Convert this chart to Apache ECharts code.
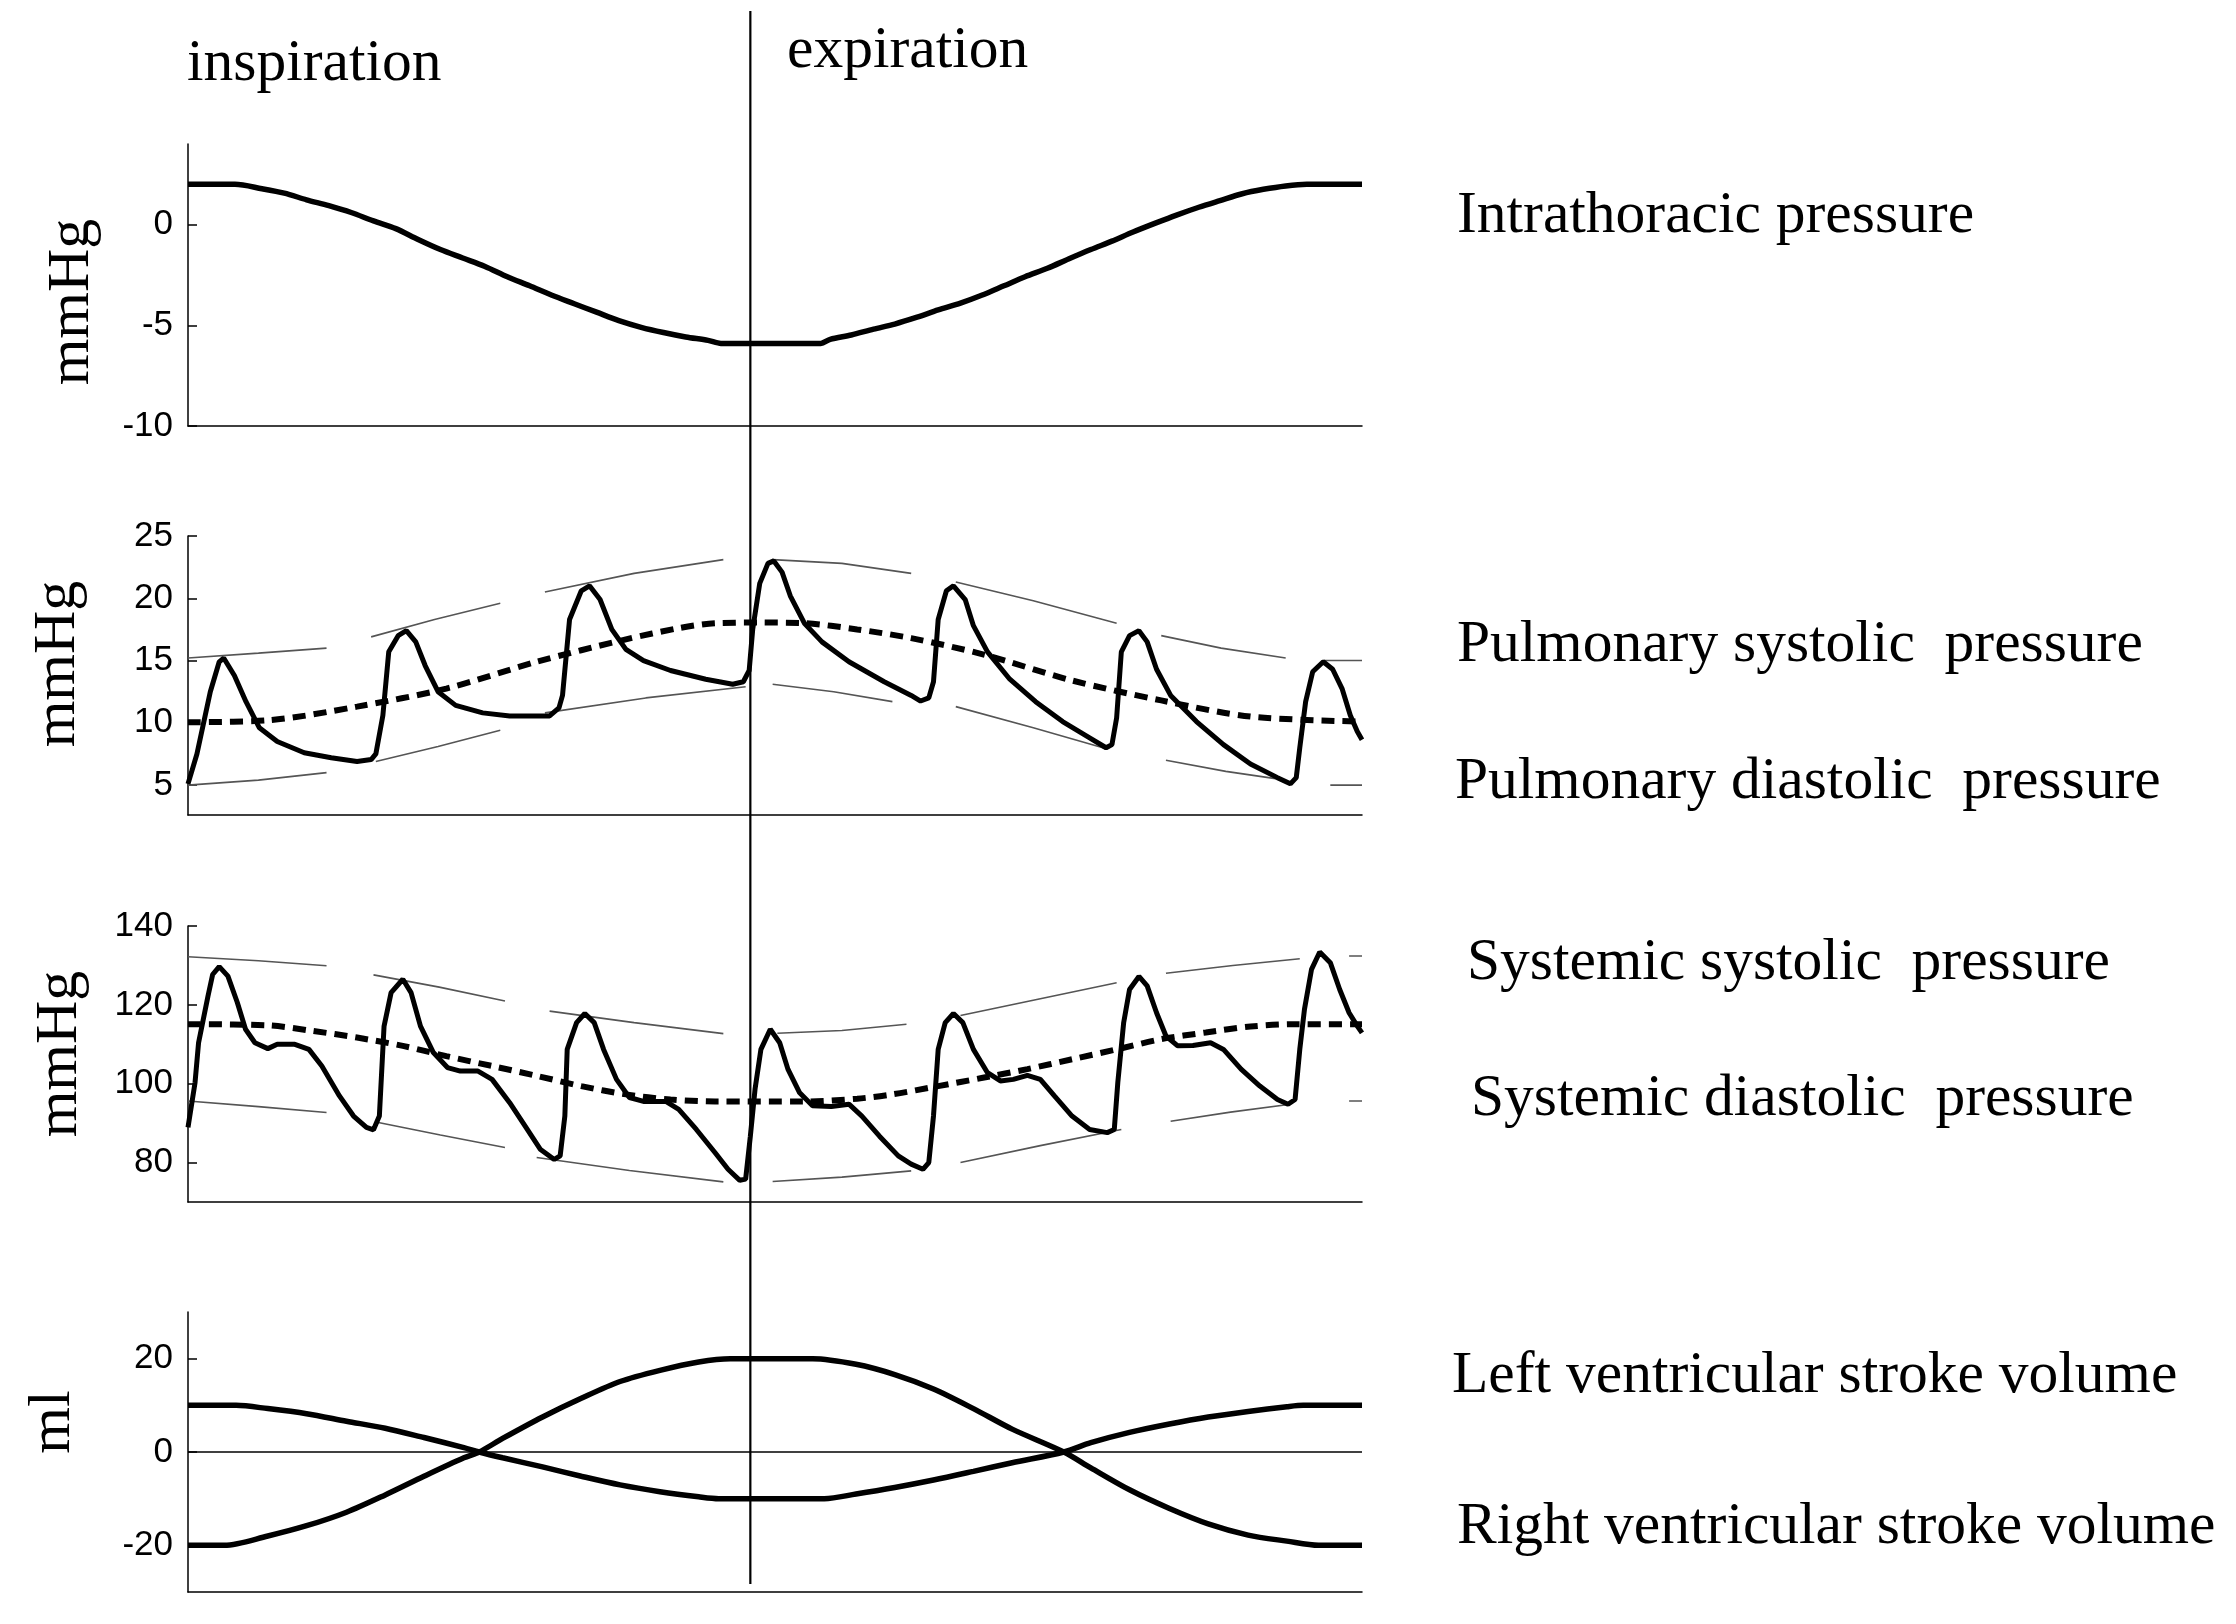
<!DOCTYPE html>
<html>
<head>
<meta charset="utf-8">
<script src="https://cdn.jsdelivr.net/npm/echarts@6/dist/echarts.min.js"></script>
<style>
html,body{margin:0;padding:0;background:#fff;}
#c{width:2236px;height:1624px;}
</style>
</head>
<body>
<div id="c"></div>
<script>
// ---------------- data (time axis 0..100 across one respiratory cycle) ----------------
const phaseBoundary = 47.9; // end of inspiration / start of expiration
const phaseLabels = ['inspiration', 'expiration'];
const seriesLabels = [
  'Intrathoracic pressure',
  'Pulmonary systolic  pressure',
  'Pulmonary diastolic  pressure',
  'Systemic systolic  pressure',
  'Systemic diastolic  pressure',
  'Left ventricular stroke volume',
  'Right ventricular stroke volume'
];
const axisUnits = ['mmHg', 'mmHg', 'mmHg', 'ml'];
const yTicks1 = [-10, -5, 0];
const yTicks2 = [5, 10, 15, 20, 25];
const yTicks3 = [80, 100, 120, 140];
const yTicks4 = [-20, 0, 20];

const intrathoracicPressure = [[0,2],[4,2],[6.3,1.78],[8.2,1.56],[10.1,1.23],[12,0.94],[13.9,0.6],[15.8,0.18],[17.7,-0.2],[19.6,-0.74],[21.5,-1.24],[23.4,-1.66],[25.3,-2.08],[27.2,-2.59],[29.1,-3.04],[31,-3.51],[32.9,-3.93],[34.8,-4.35],[36.7,-4.77],[38.6,-5.1],[40.5,-5.36],[42.4,-5.58],[44.3,-5.75],[45.4,-5.9],[53.9,-5.9],[54.7,-5.7],[56.5,-5.48],[58.4,-5.19],[60.2,-4.94],[62.1,-4.6],[63.9,-4.24],[65.8,-3.9],[67.6,-3.51],[69.5,-3.04],[71.3,-2.59],[73.2,-2.17],[75,-1.71],[76.9,-1.24],[78.7,-0.82],[80.5,-0.37],[82.4,0.07],[84.2,0.47],[86.1,0.86],[87.9,1.19],[89.8,1.53],[91.6,1.75],[93.5,1.92],[95.3,2],[100,2]];

const pulmonaryPressure = [[0,5.1],[0.76,7.5],[1.9,12.5],[2.66,14.9],[3.04,15.2],[3.95,13.8],[4.94,11.7],[6.08,9.6],[7.6,8.5],[9.9,7.6],[12.2,7.2],[14.4,6.9],[15.6,7.05],[16,7.5],[16.6,10.6],[17.1,15.7],[17.9,17],[18.6,17.4],[19.4,16.5],[20.2,14.6],[21.3,12.5],[22.8,11.4],[25.1,10.8],[27.4,10.55],[30.8,10.55],[31.6,11.2],[31.9,12.2],[32.5,18.3],[33.5,20.6],[34.2,21],[35.1,19.9],[36.1,17.5],[37.3,15.9],[38.8,15],[41.1,14.2],[44.1,13.5],[46.4,13.1],[47.3,13.3],[47.8,14.2],[48.1,17.5],[48.7,21.2],[49.4,22.8],[49.9,23],[50.6,22.1],[51.3,20.2],[52.5,18],[54,16.5],[56.3,14.9],[59.3,13.3],[61.6,12.2],[62.4,11.75],[63.1,12],[63.5,13.3],[63.9,18.3],[64.6,20.6],[65.2,21],[66.2,19.9],[66.9,17.8],[68.1,15.7],[70,13.5],[72.2,11.7],[74.5,10.1],[76.8,8.8],[78.2,8.0],[78.7,8.25],[79.1,10.4],[79.5,15.7],[80.2,17],[81,17.4],[81.7,16.5],[82.5,14.3],[83.7,12.2],[85.9,10.1],[88.2,8.25],[90.5,6.7],[92.8,5.6],[93.9,5.1],[94.4,5.6],[94.7,8],[95.2,11.7],[95.8,14.1],[96.7,14.9],[97.5,14.3],[98.3,12.75],[99,10.6],[99.6,9.3],[100,8.65]];

const pulmonaryMean = [[0,10.05],[6.8,10.2],[14.4,11.3],[22,12.75],[29.7,14.9],[37.3,16.7],[41.8,17.6],[44.9,18],[48.7,18.05],[52.5,18],[57,17.5],[61.6,16.8],[67.7,15.5],[75.3,13.4],[82.9,11.8],[90.5,10.5],[100,10.1]];

const pulmonarySystolicEnvelope = [[0,15.2],[6,15.6],[11.8,16.0],[13.7,null],[15.6,16.9],[21,18.3],[26.6,19.6],[28.5,null],[30.4,20.5],[38,22],[45.6,23.1],[47.7,null],[49.8,23.1],[55.7,22.8],[61.6,22.0],[63.5,null],[65.4,21.3],[72,19.8],[79.1,18.0],[81,null],[82.9,17.0],[88,16],[93.5,15.2],[95,null],[96.6,15.0],[100,15.0]];

const pulmonaryDiastolicEnvelope = [[0,5.0],[6,5.4],[11.8,6.0],[13.9,null],[16,6.9],[21.3,8.1],[26.6,9.4],[28.5,null],[30.4,10.8],[39,12],[47.5,12.9],[48.6,null],[49.8,13.1],[55,12.5],[60,11.7],[62.7,null],[65.4,11.3],[72,9.6],[78.3,7.9],[80.8,null],[83.3,7.0],[88.4,6.1],[93.5,5.4],[95.4,null],[97.3,5.0],[100,5.0]];

const systemicPressure = [[0,88.9],[0.6,100.3],[0.9,110.4],[1.7,122.2],[2.1,127.7],[2.66,129.7],[3.4,127.3],[4.2,120.6],[4.9,113.8],[5.7,110.4],[6.8,108.9],[7.6,110],[9.1,110],[10.3,108.7],[11.4,104.5],[12.9,96.9],[14.1,91.8],[15.2,88.9],[15.8,88.3],[16.3,91.8],[16.7,114.6],[17.3,123.1],[18.3,126.5],[19,123.1],[19.8,114.6],[20.9,107.9],[22.1,104.1],[23.2,103.2],[24.7,103.2],[25.9,101.1],[27.4,95.2],[28.9,88.4],[30,83.4],[31.2,80.8],[31.7,81.7],[32.1,91.8],[32.3,108.7],[33.1,115.5],[33.8,117.8],[34.6,115.5],[35.4,108.7],[36.5,101.1],[37.6,96.5],[38.8,95.5],[40.7,95.5],[41.8,93.5],[43.3,88.4],[44.9,82.5],[46,78.3],[47,75.5],[47.5,75.8],[47.9,86.7],[48.3,98.6],[48.8,108.7],[49.6,113.8],[50.4,110.4],[51.1,103.7],[52.1,97.7],[53.2,94.4],[54.8,94.2],[56.3,94.8],[57.4,91.8],[58.9,86.7],[60.5,81.7],[61.6,79.6],[62.6,78.3],[63.1,80],[63.5,91.8],[63.9,108.7],[64.5,115.5],[65.2,117.8],[66,115.5],[66.9,108.7],[68.1,102.8],[69.2,100.7],[70.3,101.1],[71.5,102.1],[72.6,101.1],[73.8,96.9],[75.3,91.8],[76.8,88.4],[78.3,87.6],[78.9,88.4],[79.2,100.3],[79.7,115.5],[80.2,123.9],[81,127.2],[81.7,124.8],[82.5,118],[83.3,112.1],[84.3,109.6],[85.6,109.7],[87.1,110.4],[88.2,108.7],[89.7,103.7],[91.3,99.4],[92.8,96],[93.7,94.8],[94.3,96],[94.7,108.7],[95.1,118.9],[95.7,129],[96.4,133.4],[97.3,130.7],[98.1,123.9],[98.9,118],[99.6,114.6],[100,112.9]];

const systemicMean = [[0,115.1],[6.8,114.8],[10.6,113.4],[14.4,111.7],[18.3,109.6],[22,107],[25.9,104.5],[29.7,102],[33.5,99.4],[37.3,97.3],[41.1,96],[44.9,95.5],[52.5,95.5],[57,96.2],[60,97.3],[63.9,99.4],[67.7,101.5],[71.5,103.7],[75.3,106.2],[79.1,108.7],[82.9,111.3],[86.7,113],[90.5,114.5],[94.3,115.1],[100,115.1]];

const systemicSystolicEnvelope = [[0,132.2],[6,131.2],[11.8,129.9],[13.8,null],[15.8,127.6],[21.4,124.5],[27,121],[28.9,null],[30.8,118.4],[38,115.5],[45.6,112.7],[47.9,null],[50.2,112.8],[55.7,113.5],[61.2,115.1],[63.5,null],[65.8,117.3],[72.5,121.5],[79.1,125.6],[81.2,null],[83.3,128],[89,130],[94.7,131.7],[96.8,null],[98.9,132.4],[100,132.4]];

const systemicDiastolicEnvelope = [[0,95.6],[6,94.2],[11.8,92.7],[13.9,null],[16,90.3],[21.5,87],[27,83.8],[28.4,null],[29.7,81.3],[37.6,78],[45.6,75.1],[47.7,null],[49.8,75.2],[55.7,76.3],[61.6,77.9],[63.7,null],[65.8,80],[72.6,84.3],[79.5,88.4],[81.6,null],[83.7,90.5],[88.8,92.8],[93.9,94.8],[96.4,null],[98.9,95.6],[100,95.6]];

const leftStrokeVolume = [[0,10],[4.1,10],[6.8,9.3],[10.1,8.2],[13.5,6.6],[16.8,5.1],[20.1,3.1],[23.5,0.95],[24.8,0],[26.8,-1.24],[30.2,-3.2],[33.5,-5.2],[36.8,-7.05],[40.2,-8.5],[43.5,-9.6],[45.2,-10],[54.2,-10],[56.9,-9.0],[60.2,-7.6],[63.5,-6.0],[66.9,-4.15],[70.2,-2.3],[74.6,0],[76.9,2.0],[80.2,4.2],[83.6,6.0],[86.9,7.5],[90.3,8.7],[93.6,9.7],[95,10],[100,10]];

const rightStrokeVolume = [[0,-20],[3.1,-20],[6.8,-18.0],[10.1,-15.8],[13.5,-12.9],[16.8,-9.2],[20.1,-5.2],[23.5,-1.24],[24.8,0],[26.8,2.9],[30.2,7.5],[33.5,11.5],[36.8,15.1],[40.2,17.5],[43.5,19.3],[46.2,20],[53.2,20],[56.9,18.8],[60.2,16.6],[63.5,13.5],[66.9,9.3],[70.2,4.9],[74.6,0],[76.9,-3.4],[80.2,-8.1],[83.6,-12.1],[86.9,-15.4],[90.3,-17.8],[93.6,-19.1],[96.3,-20],[100,-20]];

// ---------------- chart ----------------
const SERIF = '"Liberation Serif", "Times New Roman", serif';
const SANS = '"Liberation Sans", Arial, sans-serif';
const chart = echarts.init(document.getElementById('c'));

const gridBoxes = [
  {left: 188, width: 1174, top: 144, height: 282},
  {left: 188, width: 1174, top: 536, height: 279},
  {left: 188, width: 1174, top: 926, height: 276},
  {left: 188, width: 1174, top: 1312, height: 280}
];

function xAx(i) {
  return {
    type: 'value', gridIndex: i, min: 0, max: 100,
    axisLine: {show: true, onZero: false, lineStyle: {color: '#000', width: 1.5}},
    axisTick: {show: false}, axisLabel: {show: false}, splitLine: {show: false}
  };
}
function yAx(i, min, max, ticks) {
  return {
    type: 'value', gridIndex: i, min: min, max: max,
    axisLine: {show: true, onZero: false, lineStyle: {color: '#000', width: 1.5}},
    axisTick: {show: true, inside: true, length: 9, customValues: ticks, lineStyle: {color: '#000', width: 1.5}},
    axisLabel: {show: true, customValues: ticks, margin: 15, color: '#000', fontSize: 35, fontFamily: SANS},
    splitLine: {show: false}
  };
}
function line(i, data, opts) {
  return Object.assign({
    type: 'line', xAxisIndex: i, yAxisIndex: i, data: data,
    symbol: 'none', showSymbol: false, silent: true, connectNulls: false,
    lineStyle: {color: '#000', width: 5.5}, z: 3
  }, opts || {});
}
const thin = {lineStyle: {color: '#555', width: 1.6}, z: 2};
const dashed = {lineStyle: {color: '#000', width: 6, type: [13, 8]}, z: 4};

const option = {
  animation: false,
  backgroundColor: '#fff',
  grid: gridBoxes,
  xAxis: [xAx(0), xAx(1), xAx(2), xAx(3)],
  yAxis: [yAx(0, -10, 4, yTicks1), yAx(1, 2.6, 25, yTicks2), yAx(2, 70, 140, yTicks3), yAx(3, -30, 30, yTicks4)],
  series: [
    line(0, intrathoracicPressure, {smooth: 0.3}),
    line(1, pulmonarySystolicEnvelope, thin),
    line(1, pulmonaryDiastolicEnvelope, thin),
    line(1, pulmonaryMean, Object.assign({smooth: 0.3}, dashed)),
    line(1, pulmonaryPressure, {lineStyle: {color: '#000', width: 5}}),
    line(2, systemicSystolicEnvelope, thin),
    line(2, systemicDiastolicEnvelope, thin),
    line(2, systemicMean, Object.assign({smooth: 0.3}, dashed)),
    line(2, systemicPressure, {lineStyle: {color: '#000', width: 5}}),
    line(3, leftStrokeVolume, {
      smooth: 0.3,
      markLine: {silent: true, symbol: 'none', label: {show: false}, animation: false,
        lineStyle: {color: '#000', width: 1.5, type: 'solid'}, data: [{yAxis: 0}]}
    }),
    line(3, rightStrokeVolume, {smooth: 0.3})
  ]
};
chart.setOption(option);

// annotations
const bx = chart.convertToPixel({xAxisIndex: 0}, phaseBoundary);
const unitPos = [[72, 302], [58, 664], [60, 1054], [53, 1422]];
const labelPos = [[1457, 216], [1457, 645], [1455, 782], [1467, 963], [1471, 1099], [1452, 1376], [1457, 1527]];
const graphics = [
  {type: 'line', z: 100, silent: true, shape: {x1: bx, y1: 11, x2: bx, y2: 1584}, style: {stroke: '#000', lineWidth: 2.2}},
  {type: 'text', z: 100, silent: true, x: 187, y: 64, style: {text: phaseLabels[0], fontSize: 59.5, fontFamily: SERIF, fill: '#000', align: 'left', verticalAlign: 'middle'}},
  {type: 'text', z: 100, silent: true, x: 787, y: 51, style: {text: phaseLabels[1], fontSize: 59.5, fontFamily: SERIF, fill: '#000', align: 'left', verticalAlign: 'middle'}}
];
seriesLabels.forEach(function (t, k) {
  graphics.push({type: 'text', z: 100, silent: true, x: labelPos[k][0], y: labelPos[k][1],
    style: {text: t, fontSize: 59.5, fontFamily: SERIF, fill: '#000', align: 'left', verticalAlign: 'middle'}});
});
axisUnits.forEach(function (t, k) {
  graphics.push({type: 'text', z: 100, silent: true, x: unitPos[k][0], y: unitPos[k][1], rotation: Math.PI / 2,
    style: {text: t, fontSize: 60, fontFamily: SERIF, fill: '#000', align: 'center', verticalAlign: 'middle'}});
});
chart.setOption({graphic: graphics});
</script>
</body>
</html>
